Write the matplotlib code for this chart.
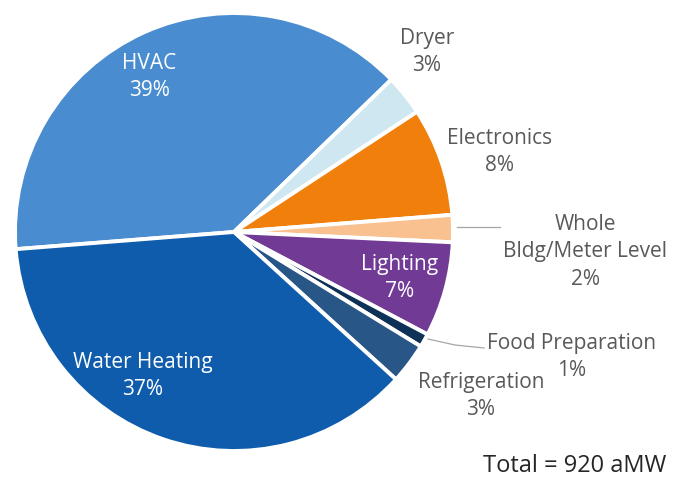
import matplotlib
matplotlib.use("Agg")
import matplotlib.pyplot as plt

plt.rcParams['font.family'] = ['Open Sans', 'DejaVu Sans']

categories = ['HVAC', 'Dryer', 'Electronics', 'Whole\nBldg/Meter Level', 'Lighting',
              'Food Preparation', 'Refrigeration', 'Water Heating']
shares = [39, 3, 8, 2, 7, 1, 3, 37]
colors = ['#498CCF', '#CFE7F0', '#F07F0C', '#F9C18F', '#713B95',
          '#0E3157', '#285687', '#0E5CAB']
total_text = 'Total = 920 aMW'

W, H = 674, 483
fig = plt.figure(figsize=(W / 100, H / 100), dpi=100)
ax = fig.add_axes([0, 0, 1, 1])

cx, cy, r = 234, H - 232, 219
ax.pie(shares, colors=colors, startangle=184.5, counterclock=False,
       center=(cx, cy), radius=r, frame=True,
       wedgeprops=dict(edgecolor='white', linewidth=2.8))
ax.set_xlim(0, W)
ax.set_ylim(0, H)
ax.set_aspect('equal')
ax.axis('off')

gray = '#595959'
# label positions in pixel coords (x, y from top), text colour
label_pos = {
    'HVAC': (149, 77, 'white'),
    'Dryer': (427, 52, gray),
    'Electronics': (500, 152, gray),
    'Whole\nBldg/Meter Level': (585, 252, gray),
    'Lighting': (400, 278, 'white'),
    'Food Preparation': (572, 357, gray),
    'Refrigeration': (481, 396, gray),
    'Water Heating': (143, 376, 'white'),
}
for name, val in zip(categories, shares):
    x, y, c = label_pos[name]
    ax.text(x, H - y, f'{name}\n{val}%', ha='center', va='center',
            color=c, fontsize=15, linespacing=1.38)

# leader lines
ax.plot([457, 500], [H - 227, H - 227], color='#A6A6A6', lw=0.9)
ax.plot([428, 455, 484], [H - 339, H - 345, H - 348], color='#A6A6A6', lw=0.9)

ax.text(666, H - 466, total_text, ha='right', va='center', color='#262626', fontsize=17)

fig.savefig('out.png', dpi=100)
